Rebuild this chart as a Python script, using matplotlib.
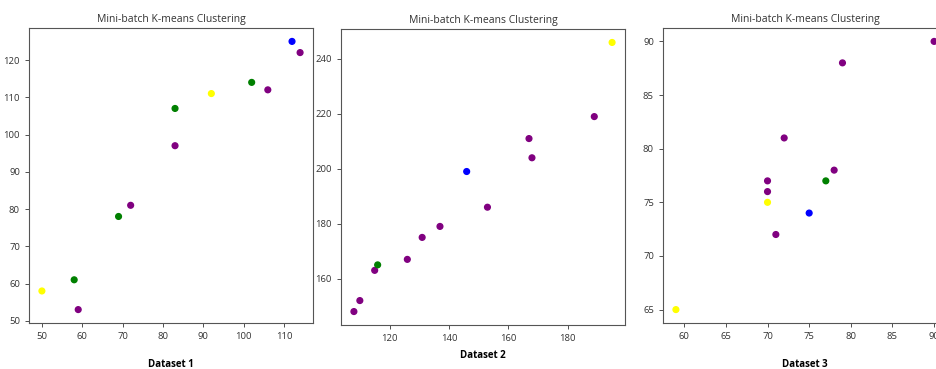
import matplotlib.pyplot as plt

# Dataset 1
x1 = [50, 58, 59, 69, 72, 83, 83, 92, 102, 106, 112, 114]
y1 = [58, 61, 53, 78, 81, 107, 97, 111, 114, 112, 125, 122]
c1 = ['yellow', 'green', 'purple', 'green', 'purple', 'green', 'purple',
      'yellow', 'green', 'purple', 'blue', 'purple']

# Dataset 2
x2 = [108, 110, 115, 116, 126, 131, 137, 146, 153, 167, 168, 189, 195]
y2 = [148, 152, 163, 165, 167, 175, 179, 199, 186, 211, 204, 219, 246]
c2 = ['purple', 'purple', 'purple', 'green', 'purple', 'purple', 'purple',
      'blue', 'purple', 'purple', 'purple', 'purple', 'yellow']

# Dataset 3
x3 = [59, 70, 70, 70, 71, 72, 75, 77, 78, 79, 90]
y3 = [65, 77, 76, 75, 72, 81, 74, 77, 78, 88, 90]
c3 = ['yellow', 'purple', 'purple', 'yellow', 'purple', 'purple', 'blue',
      'green', 'purple', 'purple', 'purple']

names = ['Dataset 1', 'Dataset 2', 'Dataset 3']

plt.rcParams['font.family'] = ['Open Sans', 'DejaVu Sans']

fig = plt.figure(figsize=(9.37, 3.69), dpi=100)
W, H = 937, 369
boxes = [(29, 323, 284, 295), (341, 325, 284, 296), (663, 323, 284, 295)]
pads = [13, 5, 13]

for (l, b, w, h), xs, ys, cs, name, pad in zip(boxes, [x1, x2, x3], [y1, y2, y3],
                                               [c1, c2, c3], names, pads):
    ax = fig.add_axes([l / W, (H - b) / H, w / W, h / H])
    ax.scatter(xs, ys, c=cs, s=17)
    ax.set_title('Mini-batch K-means Clustering', fontsize=7.5, color='#333333', pad=4)
    ax.tick_params(labelsize=6.8, colors='#333333', length=3, width=0.6)
    for sp in ax.spines.values():
        sp.set_color('#555555')
        sp.set_linewidth(0.8)
    ax.set_xlabel(name, fontsize=7, fontweight='bold', labelpad=pad)

fig.savefig('out.png', dpi=100)
